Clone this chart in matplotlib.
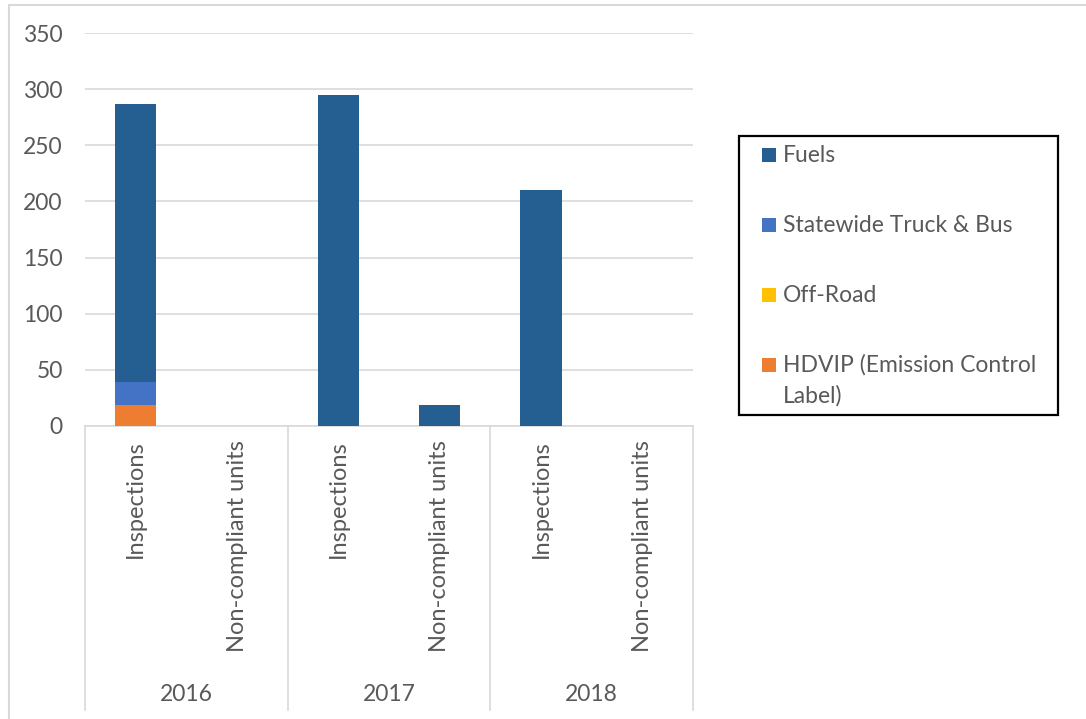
import matplotlib
matplotlib.use("Agg")
import matplotlib.pyplot as plt
from matplotlib.patches import Rectangle
import numpy as np

plt.rcParams['font.family'] = ['Lato', 'DejaVu Sans']

# data
years = ['2016', '2017', '2018']
categories = ['Inspections', 'Non-compliant units'] * 3
fuels = [248, 0, 295, 19, 210, 0]
statewide = [20, 0, 0, 0, 0, 0]
offroad = [0, 0, 0, 0, 0, 0]
hdvip = [19, 0, 0, 0, 0, 0]

series = [
    ('HDVIP (Emission Control\nLabel)', hdvip, '#ED7D31'),
    ('Off-Road', offroad, '#FFC000'),
    ('Statewide Truck & Bus', statewide, '#4472C4'),
    ('Fuels', fuels, '#255E91'),
]

W, H = 1086, 719
TXT = '#595959'
fig = plt.figure(figsize=(W / 100, H / 100), dpi=100)
ax = fig.add_axes([85 / W, (H - 426) / H, (693 - 85) / W, (426 - 33) / H])

x = np.arange(len(categories))
bottom = np.zeros(len(categories))
for name, vals, col in series:
    ax.bar(x, vals, width=0.41, bottom=bottom, color=col, zorder=3)
    bottom += np.array(vals)

ax.set_xlim(-0.5, len(categories) - 0.5)
ax.set_ylim(0, 350)
ax.set_yticks(range(0, 351, 50))
ax.grid(axis='y', color='#D9D9D9', lw=1.2, zorder=0)
for s in ['top', 'right', 'left']:
    ax.spines[s].set_visible(False)
ax.spines['bottom'].set_color('#D9D9D9')
ax.spines['bottom'].set_linewidth(1.2)
ax.tick_params(axis='y', length=0, labelsize=16.5, labelcolor=TXT, pad=16)
ax.tick_params(axis='x', length=0, labelsize=17, labelcolor=TXT, pad=10)
ax.set_xticks(x)
ax.set_xticklabels(categories, rotation=90, va='top', ha='center')

# group separators and year labels
trans = ax.get_xaxis_transform()
for b in [-0.5, 1.5, 3.5, 5.5]:
    ax.plot([b, b], [0, -0.723], transform=trans, color='#D9D9D9', lw=1.2, clip_on=False)
for i, yr in enumerate(years):
    ax.text(2 * i + 0.5, -0.683, yr, transform=trans, ha='center', va='center',
            fontsize=16.5, color=TXT)

# outer chart border
fig.add_artist(Rectangle((9 / W, -0.01), 1.1, (H - 5) / H + 0.01, transform=fig.transFigure,
                         fill=False, edgecolor='#D9D9D9', lw=1.5))


# legend drawn by hand (pixel coords from top-left)
def px(xp, yp):
    return xp / W, (H - yp) / H


fig.add_artist(Rectangle(px(739, 415), (1058 - 739) / W, (415 - 136) / H,
                         transform=fig.transFigure, fill=False, edgecolor='black', lw=1.6))
for i, (name, vals, col) in enumerate(series[::-1]):
    yc = 155 + 70 * i
    fig.add_artist(Rectangle(px(762, yc + 7), 14 / W, 14 / H, transform=fig.transFigure,
                             facecolor=col, edgecolor='none'))
    first, *rest = name.split('\n')
    fig.text(*px(783, yc), first, fontsize=16.5, color=TXT, va='center', ha='left')
    for j, line in enumerate(rest):
        fig.text(*px(783, yc + 31 * (j + 1)), line, fontsize=16.5, color=TXT,
                 va='center', ha='left')

fig.savefig('out.png', dpi=100)
